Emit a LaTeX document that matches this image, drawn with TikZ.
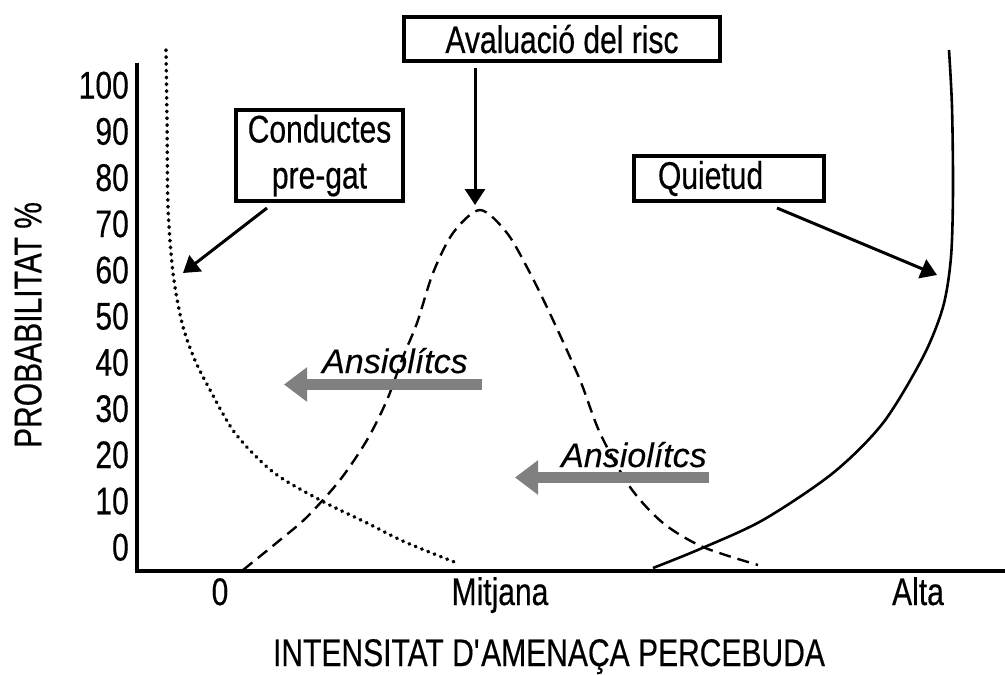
\documentclass[tikz,border=0pt]{standalone}
\usepackage{fontspec}
\setmainfont{Liberation Sans}[FakeStretch=0.78,FakeBold=0.4]
\newfontfamily\ansfont{Liberation Sans}[FakeBold=0.2]
\usetikzlibrary{arrows.meta}
\definecolor{arrgray}{RGB}{128,128,128}
\begin{document}
\begin{tikzpicture}[x=1pt,y=-1pt,
  box/.style={draw, line width=4pt, inner sep=0pt, font=\fontsize{38.5}{46}\selectfont},
  lbl/.style={inner sep=0pt, font=\fontsize{38.5}{44}\selectfont},
  ans/.style={inner sep=0pt, font=\ansfont\itshape\fontsize{34}{40}\selectfont},
  arr/.style={line width=3pt, -{Triangle[length=16pt,width=20pt]}},
  grayarr/.style={draw=arrgray, line width=11pt, -{Triangle[length=23pt,width=33pt]}},
  dotcurve/.style={line width=3.6pt, line cap=round, dash pattern=on 0.6pt off 6.2pt},
  dashcurve/.style={line width=2.4pt, dash pattern=on 12pt off 7pt},
  solidcurve/.style={line width=2.6pt}
]
\useasboundingbox (0,0) rectangle (1005,675);

% axes
\coordinate (ytop) at (137,63);
\coordinate (origin) at (137,571);
\coordinate (xend) at (1005,571);
\draw[line width=4pt, line join=miter] (ytop) -- (origin) -- (xend);

% tick labels
\foreach \v [count=\i from 0] in {100,90,80,70,60,50,40,30,20,10,0}
  \node[lbl, anchor=base east] (t\v) at (129,{98.5+46.2*\i}) {\v};

\node[lbl, anchor=base] (x0) at (220,605) {0};
\node[lbl, anchor=base] (xmid) at (500,605) {Mitjana};
\node[lbl, anchor=base] (xhigh) at (918,605) {Alta};
\node[lbl, anchor=base] (xlab) at (549,666) {INTENSITAT D\textquotesingle AMENAÇA PERCEBUDA};
\node[lbl, rotate=90] (ylab) at (28,325) {PROBABILITAT \%};

% curves
\draw[dotcurve] plot[smooth] coordinates {(166,50) (167,120) (168,207) (173,273) (182,323) (194,358) (209,388) (235,433) (273,472) (320,500) (367,523) (405,542) (457,563)};
\draw[dashcurve] plot[smooth] coordinates {(243,570) (280,540) (307,517) (340,480) (367,440) (387,400) (403,357) (417,323) (433,273) (453,233) (480,210) (507,233) (530,273) (553,320) (580,380) (600,433) (630,487) (663,523) (703,547) (758,565)};
\draw[solidcurve] plot[smooth] coordinates {(653,568) (700,549) (763,520) (833,473) (883,423) (923,357) (943,307) (951,257) (953,190) (952,107) (949,50)};

% boxes
\node[box, minimum width=316pt, minimum height=44pt] (aval) at (562,39) {Avaluació del risc};
\node[box, minimum width=167pt, minimum height=91pt, align=center] (cond) at (319.5,155.5) {Conductes\\pre-gat};
\node[box, minimum width=190pt, minimum height=45pt, text width=142pt, inner xsep=24pt, align=left] (quiet) at (729,178.5) {Quietud};

% arrows
\coordinate (avtip) at (475,205);
\coordinate (condtip) at (183,273);
\coordinate (quiettip) at (937,275);
\draw[arr] ([yshift=-5pt]avtip |- aval.south) -- (avtip);
\draw[arr] ([yshift=-5pt]267,0 |- cond.south) -- (condtip);
\draw[arr] ([yshift=-5pt]777,0 |- quiet.south) -- (quiettip);

% gray arrows with labels
\coordinate (g1s) at (482,384.5);
\coordinate (g1e) at (284,384.5);
\coordinate (g2s) at (709,477.5);
\coordinate (g2e) at (515,477.5);
\draw[grayarr] (g1s) -- (g1e);
\draw[grayarr] (g2s) -- (g2e);
\node[ans, anchor=base west] (ans1) at (322,373) {Ansiolítcs};
\node[ans, anchor=base west] (ans2) at (561,467) {Ansiolítcs};
\end{tikzpicture}
\end{document}
